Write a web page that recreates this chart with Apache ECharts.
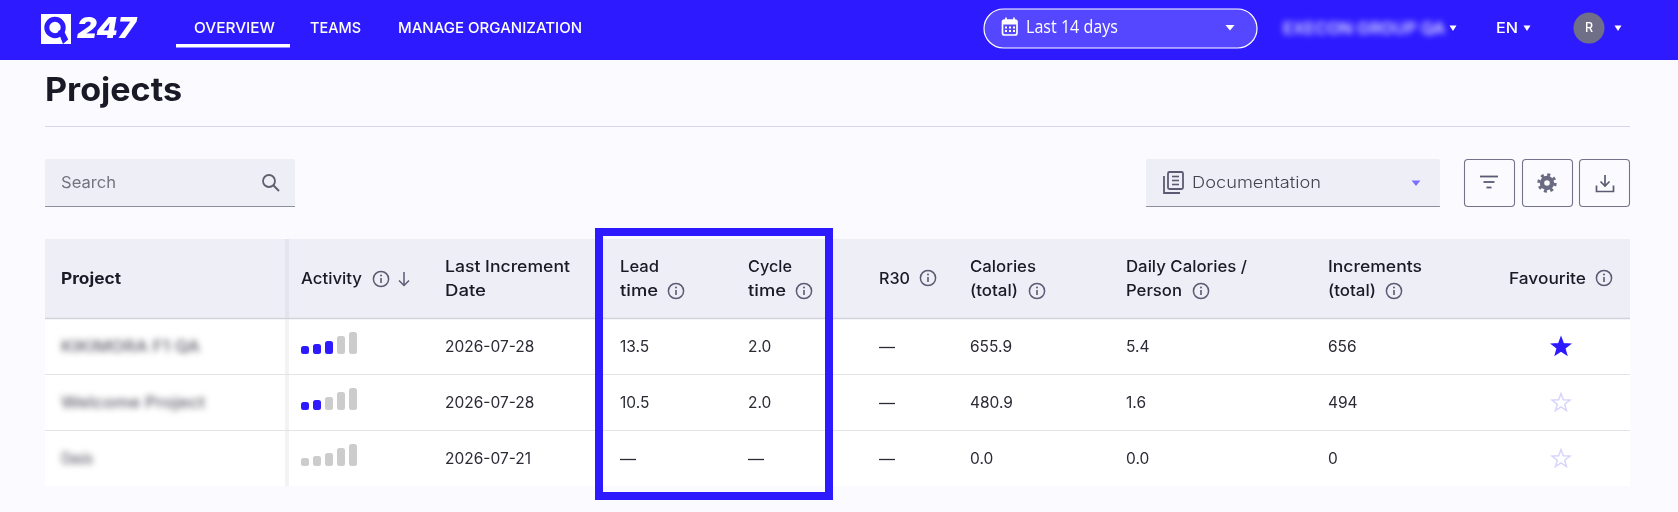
<!DOCTYPE html>
<html><head><meta charset="utf-8">
<style>html,body{margin:0;padding:0;background:#fbfbff;overflow:hidden}
#c,#b{position:absolute;left:0;top:0;width:1678px;height:512px}
#b{filter:blur(3px);pointer-events:none}</style>
<script src="https://cdn.jsdelivr.net/npm/echarts@6/dist/echarts.min.js"></script>
</head><body><div id="c"></div><div id="b"></div>
<script>
// ---- data ----
const navItems = ['OVERVIEW','TEAMS','MANAGE ORGANIZATION'];
const projects = ['KIKIMORA F1 QA','Welcome Project','Oasis'];
const lastIncrementDates = ['2026-07-28','2026-07-28','2026-07-21'];
const leadTimes = ['13.5','10.5','—'];
const cycleTimes = ['2.0','2.0','—'];
const r30Values = ['—','—','—'];
const calories = ['655.9','480.9','0.0'];
const dailyCalories = ['5.4','1.6','0.0'];
const increments = ['656','494','0'];
const favourites = [true,false,false];
const activityCategories = ['1','2','3','4','5'];
const activityBarValues = [8,10,13,18,22];
const activeLevels = [3,2,0];

// ---- style / layout ----
const BLUE='#2d1aff', INK='#1a1a26', CELL='#2b2b36', ICON='#5a5a72', HEAD='#eeeef7', BAR='#cccccc';
const FONT='Inter';
const mctx=document.createElement('canvas').getContext('2d');
const fit=(text,font,w)=>{if(!w)return 1;mctx.font=font;return w/mctx.measureText(text).width};
const g=[];
const T=(x,y,text,o={})=>{const font=`${o.style||''} ${o.weight||400} ${o.size||15.5}px ${o.font||FONT}`.trim();
  g.push({type:'text',x,y,z:o.z||5,scaleX:fit(text,font,o.w),style:{text,fill:o.color||CELL,font,
  textAlign:o.align||'left',textVerticalAlign:'middle'}})};
const R=(x,y,w,h,fill,o={})=>g.push({type:'rect',z:o.z||1,shape:{x,y,width:w,height:h,r:o.r||0},
  style:{fill,stroke:o.stroke||null,lineWidth:o.lw||1}});
const L=(x1,y1,x2,y2,stroke,lw=1,z=3,cap='butt')=>g.push({type:'line',z,shape:{x1,y1,x2,y2},style:{stroke,lineWidth:lw,lineCap:cap}});
const C=(cx,cy,r,fill,stroke,lw=1,z=4,dash)=>g.push({type:'circle',z,shape:{cx,cy,r},style:{fill:fill||null,stroke:stroke||null,lineWidth:lw,lineDash:dash||null}});
const P=(points,fill,stroke,lw=1,z=4)=>g.push({type:'polygon',z,shape:{points},style:{fill:fill||null,stroke:stroke||null,lineWidth:lw}});
const PL=(points,stroke,lw=1.6,z=4)=>g.push({type:'polyline',z,shape:{points},style:{fill:null,stroke,lineWidth:lw}});
const caret=(cx,cy,color,w=5)=>P([[cx-w,cy-2.5],[cx+w,cy-2.5],[cx,cy+3]],color,null,1,6);
const info=(cx,cy)=>{C(cx,cy,7.6,null,ICON,1.5);C(cx,cy-3.4,1,ICON,null);L(cx,cy-1,cx,cy+4,ICON,1.6)};
const star=(cx,cy,fill,stroke)=>{const pts=[];for(let i=0;i<10;i++){const r=i%2?3.9:9.4,a=-Math.PI/2+i*Math.PI/5;
  pts.push([cx+r*Math.cos(a),cy+r*Math.sin(a)])}P(pts,fill,stroke,1.5)};

// navbar
R(0,0,1678,60,BLUE);
R(41,14,30,30,'#fff');
C(55,27.5,8.2,null,BLUE,5);
P([[58,31],[63,29],[68,39],[71,44],[63,44]],BLUE,null,1,5);
P([[63,44],[71,44],[71,37]],'#fff',null,1,5);
T(77,29,'247',{color:'#fff',weight:900,size:29,style:'italic',w:59});
const navX=[194,310,398], navW=[81,51,184];
navItems.forEach((t,i)=>T(navX[i],28.5,t,{color:'#fff',weight:500,size:15,w:navW[i]}));
R(176,44,114,3.5,'#fff',{z:5});
// date pill
R(984,9,273,39,'#5546ff',{r:19.5,stroke:'#fff',lw:1.2,z:2});
R(1002.5,20,14.5,15,null,{r:2,stroke:'#fff',lw:1.7,z:5});
R(1002.5,20,14.5,4.5,'#fff',{r:1,z:5});
L(1006,17.5,1006,21,'#fff',1.7,5);L(1014,17.5,1014,21,'#fff',1.7,5);
[[1006,27.5],[1010,27.5],[1014,27.5],[1006,31],[1010,31],[1014,31]].forEach(p=>R(p[0]-1,p[1]-1,2,2,'#fff',{z:5}));
T(1026,28,'Last 14 days',{color:'#fff',size:17.5,font:'Open Sans',w:92});
caret(1230,27.5,'#fff',4.5);
caret(1453,28,'#fff',3.5);
T(1496,28.5,'EN',{color:'#fff',weight:500,size:14.5,w:22});
caret(1527,28,'#fff',3.5);
C(1589,28,15.5,'#6f6f88',null);
T(1589,28.5,'R',{color:'#fff',weight:500,size:12.5,align:'center'});
caret(1618,28,'#fff',3.5);

// title
T(45,91,'Projects',{color:INK,weight:700,size:32,w:137});
L(45,126.5,1630,126.5,'#d5d5f0');

// search
R(45,159,250,47,HEAD,{r:2});L(45,206.5,295,206.5,'#8e8ea0');
T(61,183,'Search',{color:'#74747f',size:15.5,w:55});
C(269,181,6,null,'#5f5f6e',1.8);L(273.5,185.5,279,191,'#5f5f6e',2);
// dropdown
R(1146,159,294,47,HEAD,{r:2});L(1146,206.5,1440,206.5,'#8e8ea0');
R(1168,172,15,17,null,{r:1.5,stroke:ICON,lw:1.8,z:5});
L(1172,176.5,1179,176.5,ICON,1.6,5);L(1172,180.5,1179,180.5,ICON,1.6,5);L(1172,184.5,1179,184.5,ICON,1.6,5);
PL([[1164,176],[1164,193],[1180,193]],ICON,1.8);
T(1192,183,'Documentation',{color:'#44444f',weight:300,size:16.5,w:129});
caret(1416,183,'#7d6fff',4.5);
// buttons
[1464,1522,1579].forEach(x=>R(x+.5,159.5,50,47,'#fbfbff',{r:3.5,stroke:'#72728a',lw:1.1}));
L(1480,176.5,1498,176.5,ICON,1.8);L(1483.5,182,1494.5,182,ICON,1.8);L(1486.5,187.5,1491.5,187.5,ICON,1.8);
C(1547,183,5,null,'#6a6a82',4.4);C(1547,183,8.2,null,'#6a6a82',3,4,[3,3.44]);
L(1605,175,1605,186,ICON,1.7);PL([[1600.5,181.5],[1605,186],[1609.5,181.5]],ICON,1.7);
PL([[1596.5,185.5],[1596.5,191.5],[1613.5,191.5],[1613.5,185.5]],ICON,1.7);

// table
R(45,239,1585,247,'#ffffff',{z:1});
R(45,239,1585,79,HEAD,{z:1});
L(45,318.5,1630,318.5,'#d2d2dc',1.5,3);
L(45,374.5,1630,374.5,'#e3e3e8',1.2,3);
L(45,430.5,1630,430.5,'#e3e3e8',1.2,3);
R(285,239,4,79,'#e4e4ef',{z:2});R(285,318,4,168,'#f3f3f6',{z:2});

const H=w=>({color:INK,weight:500,size:16,w});
T(61,279,'Project',{color:INK,weight:700,size:16,w:60});
T(301,279,'Activity',H(61));info(381,279);
L(404,272,404,285,ICON,1.5);PL([[399,280.5],[404,285.5],[409,280.5]],ICON,1.5);
T(445,267,'Last Increment',H(125));T(445,291,'Date',H(41));
T(620,267,'Lead',H(39));T(620,291,'time',H(38));info(676,291);
T(748,267,'Cycle',H(44));T(748,291,'time',H(38));info(804,291);
T(879,279,'R30',H(31));info(928,278);
T(970,267,'Calories',H(66));T(970,291,'(total)',H(48));info(1037,291);
T(1126,267,'Daily Calories /',H(121));T(1126,291,'Person',H(56));info(1201,291);
T(1328,267,'Increments',H(94));T(1328,291,'(total)',H(48));info(1394,291);
T(1509,279,'Favourite',H(77));info(1604,278);

const rowY=[347.5,403.5,459.5];
const cols=[[445,lastIncrementDates],[620,leadTimes],[748,cycleTimes],[879,r30Values],[970,calories],[1126,dailyCalories],[1328,increments]];
rowY.forEach((y,r)=>{
  cols.forEach(([x,vals])=>{
    if(vals[r]==='—') L(x,y,x+16,y,CELL,1.3,5);
    else T(x,y,vals[r],{size:15.5});
  });
  favourites[r]?star(1561,y-.5,BLUE,BLUE):star(1561,y-.5,null,'#d8d4fb');
});
// highlight box
g.push({type:'rect',z:8,shape:{x:599,y:232,width:230,height:264},style:{fill:null,stroke:BLUE,lineWidth:8}});

// activity bar mini charts
const tops=[332,388,444];
const grids=[],xAxes=[],yAxes=[],series=[];
activeLevels.forEach((lvl,i)=>{
  grids.push({left:299,width:60,top:tops[i],height:22,containLabel:false});
  xAxes.push({type:'category',gridIndex:i,data:activityCategories,show:false});
  yAxes.push({type:'value',gridIndex:i,min:0,max:22,show:false});
  series.push({type:'bar',xAxisIndex:i,yAxisIndex:i,barWidth:8,silent:true,z:6,animation:false,
    data:activityBarValues.map((v,k)=>({value:v,itemStyle:{color:k<lvl?BLUE:BAR,borderRadius:2.5}}))});
});
const chart=echarts.init(document.getElementById('c'),null,{width:1678,height:512});
chart.setOption({animation:false,backgroundColor:'#fbfbff',grid:grids,xAxis:xAxes,yAxis:yAxes,series,graphic:{elements:g}});

// blurred labels (names are obscured in the source)
const blur=echarts.init(document.getElementById('b'),null,{width:1678,height:512});
const bt=(x,y,text,fill,w)=>{const font=`500 16px ${FONT}`;return {type:'text',x,y,scaleX:fit(text,font,w),style:{text,fill,font,textVerticalAlign:'middle'}}};
const blurW=[139,144,32];
blur.setOption({animation:false,graphic:{elements:[
  bt(1283,29,'EXECON GROUP QA','#f4f4ff',162),
  ...projects.map((p,i)=>bt(61,rowY[i],p,'#5f5f6a',blurW[i]))
]}});
</script></body></html>
